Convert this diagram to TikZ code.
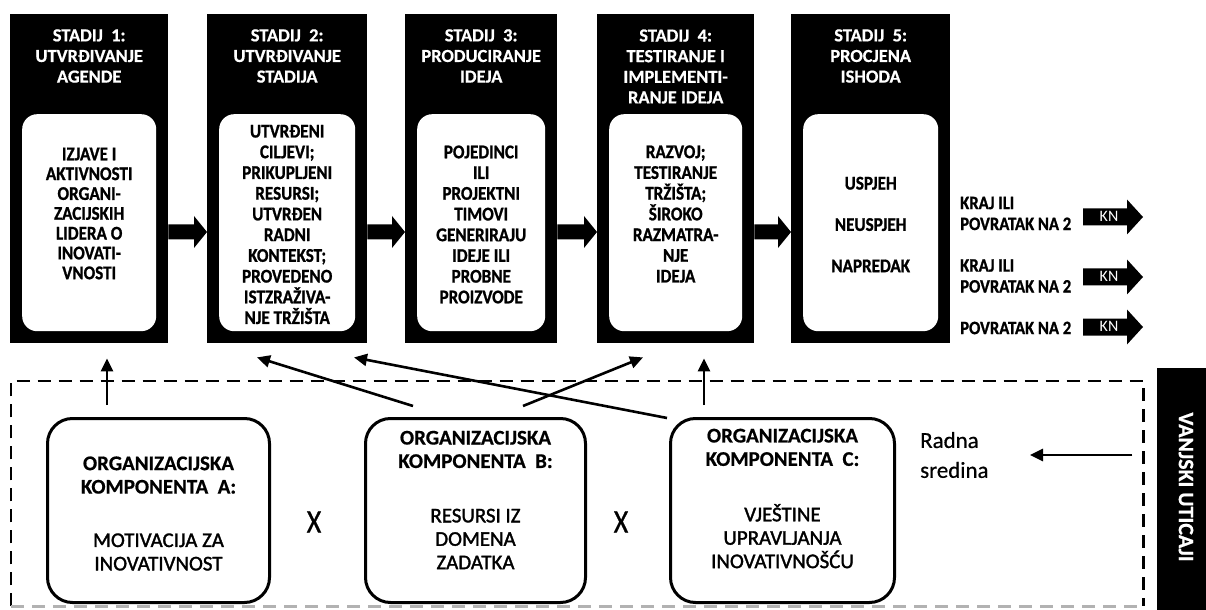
\documentclass[tikz,border=0pt]{standalone}
\usepackage{fontspec}
\setmainfont{Carlito}
\newfontfamily\cnd[FakeStretch=0.88,FakeBold=1]{Carlito}
\newfontfamily\hdf[FakeBold=0.6]{Carlito}
\newfontfamily\lowf[FakeBold=1.6]{Carlito}
\newfontfamily\xf[FakeStretch=0.85,FakeBold=0.8]{Carlito}
\usetikzlibrary{calc,arrows.meta}
\tikzset{
 stagebox/.style={fill=black, draw=none, inner sep=0pt, anchor=north west, minimum height=329bp},
 innerbox/.style={fill=white, draw=none, rounded corners=15bp, inner sep=0pt, anchor=north west, minimum height=217bp},
 headtxt/.style={text=white, font=\hdf\bfseries\fontsize{18.5}{20.7}\selectfont, align=center, inner sep=0pt},
 bodytxt/.style={text=black, font=\cnd\bfseries\fontsize{19.5}{20.8}\selectfont, align=center, inner sep=0pt},
 compbox/.style={draw=black, line width=3bp, rounded corners=25bp, inner sep=0pt, anchor=north west, minimum height=184bp},
 comptxt/.style={font=\hdf\bfseries\fontsize{21}{23.5}\selectfont, align=center, inner sep=0pt},
 thinarr/.style={line width=2.6bp, -{Triangle[length=13bp,width=12bp]}},
 dashln/.style={line width=2.5bp, dash pattern=on 13bp off 8bp},
 sidetxt/.style={font=\cnd\bfseries\fontsize{19}{21}\selectfont, align=left, anchor=west, inner sep=0pt},
 kntxt/.style={text=white, font=\fontsize{16}{16}\selectfont, inner sep=0pt},
 xmark/.style={font=\xf\fontsize{33}{33}\selectfont, inner sep=0pt},
}
\newcommand\blkarrow[2]{%
 \fill (#1.east |- ay) ++(0,-7.5) -- ($(#2.west |- ay)+(-13,-7.5)$) -- ++(0,-8.5) -- (#2.west |- ay) -- ++(-13,16) -- ++(0,-8.5) -- ($(#1.east |- ay)+(0,7.5)$) -- cycle;}
\newcommand\knarrow[1]{%
 \fill (1083,#1) ++(0,-8.5) -- ++(44,0) -- ++(0,-9) -- ++(16,17.5) -- ++(-16,17.5) -- ++(0,-9) -- ++(-44,0) -- cycle;}
\newcommand\lw{\lowf\mdseries\fontsize{21}{24.5}\selectfont}
\begin{document}
\begin{tikzpicture}[x=1bp,y=-1bp]
\useasboundingbox (0,0) rectangle (1206,610);
\coordinate (ay) at (0,232);
% stage boxes
\node[stagebox, minimum width=158bp] (s1) at (10,14) {};
\node[stagebox, minimum width=160bp] (s2) at (207,14) {};
\node[stagebox, minimum width=152bp] (s3) at (405,14) {};
\node[stagebox, minimum width=157bp] (s4) at (597,14) {};
\node[stagebox, minimum width=159bp] (s5) at (791,14) {};
\node[innerbox, minimum width=134bp] (i1) at ($(s1.north west)+(12,100)$) {};
\node[innerbox, minimum width=136bp] (i2) at ($(s2.north west)+(12,100)$) {};
\node[innerbox, minimum width=128bp] (i3) at ($(s3.north west)+(12,100)$) {};
\node[innerbox, minimum width=133bp] (i4) at ($(s4.north west)+(12,100)$) {};
\node[innerbox, minimum width=135bp] (i5) at ($(s5.north west)+(12,100)$) {};
% headers
\node[headtxt] (h1) at ($(s1.north)+(0,42)$) {STADIJ~~1:\\UTVRĐIVANJE\\AGENDE};
\node[headtxt] (h2) at ($(s2.north)+(0,42)$) {STADIJ~~2:\\UTVRĐIVANJE\\STADIJA};
\node[headtxt] (h3) at ($(s3.north)+(0,42)$) {STADIJ~~3:\\PRODUCIRANJE\\IDEJA};
\node[headtxt] (h4) at ($(s4.north)+(0,52.5)$) {STADIJ~~4:\\TESTIRANJE I\\IMPLEMENTI-\\RANJE IDEJA};
\node[headtxt] (h5) at ($(s5.north)+(0,42)$) {STADIJ~~5:\\PROCJENA\\ISHODA};
% body texts
\node[bodytxt, font=\cnd\bfseries\fontsize{19.5}{19.9}\selectfont] (t1) at ($(i1.north)+(0,99.5)$) {IZJAVE I\\AKTIVNOSTI\\ORGANI-\\ZACIJSKIH\\LIDERA O\\INOVATI-\\VNOSTI};
\node[bodytxt] (t2) at ($(i2.north)+(0,110.5)$) {UTVRĐENI\\CILJEVI;\\PRIKUPLJENI\\RESURSI;\\UTVRĐEN\\RADNI\\KONTEKST;\\PROVEDENO\\ISTZRAŽIVA-\\NJE TRŽIŠTA};
\node[bodytxt] (t3) at ($(i3.north)+(0,110.5)$) {POJEDINCI\\ILI\\PROJEKTNI\\TIMOVI\\GENERIRAJU\\IDEJE ILI\\PROBNE\\PROIZVODE};
\node[bodytxt] (t4) at ($(i4.north)+(0,100)$) {RAZVOJ;\\TESTIRANJE\\TRŽIŠTA;\\ŠIROKO\\RAZMATRA-\\NJE\\IDEJA};
\node[bodytxt, font=\cnd\bfseries\fontsize{19.5}{41.5}\selectfont] (t5) at ($(i5.north)+(0,110.5)$) {USPJEH\\NEUSPJEH\\NAPREDAK};
% block arrows
\blkarrow{s1}{s2}
\blkarrow{s2}{s3}
\blkarrow{s3}{s4}
\blkarrow{s4}{s5}
% outcomes
\node[sidetxt] (l1) at (960,213.5) {KRAJ ILI\\POVRATAK NA 2};
\node[sidetxt] (l2) at (960,276) {KRAJ ILI\\POVRATAK NA 2};
\node[sidetxt] (l3) at (960,328) {POVRATAK NA 2};
\knarrow{217}
\knarrow{277}
\knarrow{327}
\node[kntxt] (kn1) at (1109,216) {KN};
\node[kntxt] (kn2) at (1109,276) {KN};
\node[kntxt] (kn3) at (1109,326) {KN};
% environment
\node[inner sep=0pt, minimum width=1132bp, minimum height=225bp, anchor=north west] (env) at (11,381) {};
\draw[dashln] (env.south west) -- (env.north west) -- (env.north east) -- (env.south east);
\draw[dashln, black!30] (env.south west) -- (env.south east);
\node[fill=black, inner sep=0pt, minimum width=49bp, minimum height=242bp, anchor=north west] (bar) at (1157,368) {};
\node[rotate=-90, text=white, font=\hdf\bfseries\fontsize{22}{22}\selectfont, inner sep=0pt] (vu) at (1186,487) {VANJSKI UTICAJI};
% components
\node[compbox, minimum width=222bp] (cA) at (46,417) {};
\node[compbox, minimum width=220bp] (cB) at (364,417) {};
\node[compbox, minimum width=224bp] (cC) at (669,417) {};
\node[comptxt] (tA) at ($(cA.north)+(0,96.5)$) {ORGANIZACIJSKA\\KOMPONENTA~~A:\\[30bp]\lw MOTIVACIJA ZA\\\lw INOVATIVNOST};
\node[comptxt] (tB) at ($(cB.north)+(0,83)$) {ORGANIZACIJSKA\\KOMPONENTA~~B:\\[31bp]\lw RESURSI IZ\\\lw DOMENA\\\lw ZADATKA};
\node[comptxt] (tC) at ($(cC.north)+(0,81.5)$) {ORGANIZACIJSKA\\KOMPONENTA~~C:\\[32bp]\lw VJEŠTINE\\\lw UPRAVLJANJA\\\lw INOVATIVNOŠĆU};
\node[xmark] (x1) at (314,522) {X};
\node[xmark] (x2) at (621,522) {X};
\node[font=\hdf\fontsize{23}{30}\selectfont, align=left, anchor=west, inner sep=0pt] (rs) at (920,455) {Radna\\sredina};
\coordinate (rstip) at (1030,455);
\draw[thinarr] ($(env.east |- rstip)+(-11,0)$) -- (rstip);
% influence arrows
\draw[thinarr] ($(cA.north west)+(61,-12)$) -- ($(s1.south west)+(97,15)$);
\draw[thinarr] ($(cB.north west)+(49,-11)$) -- ($(s2.south west)+(50,14)$);
\draw[thinarr] ($(cB.north west)+(159,-11)$) -- ($(s4.south west)+(46,14)$);
\draw[thinarr] ($(cC.north west)+(-2,1)$) -- ($(s2.south west)+(147,14)$);
\draw[thinarr] ($(cC.north west)+(35,-12)$) -- ($(s4.south west)+(107,15)$);
\end{tikzpicture}
\end{document}
